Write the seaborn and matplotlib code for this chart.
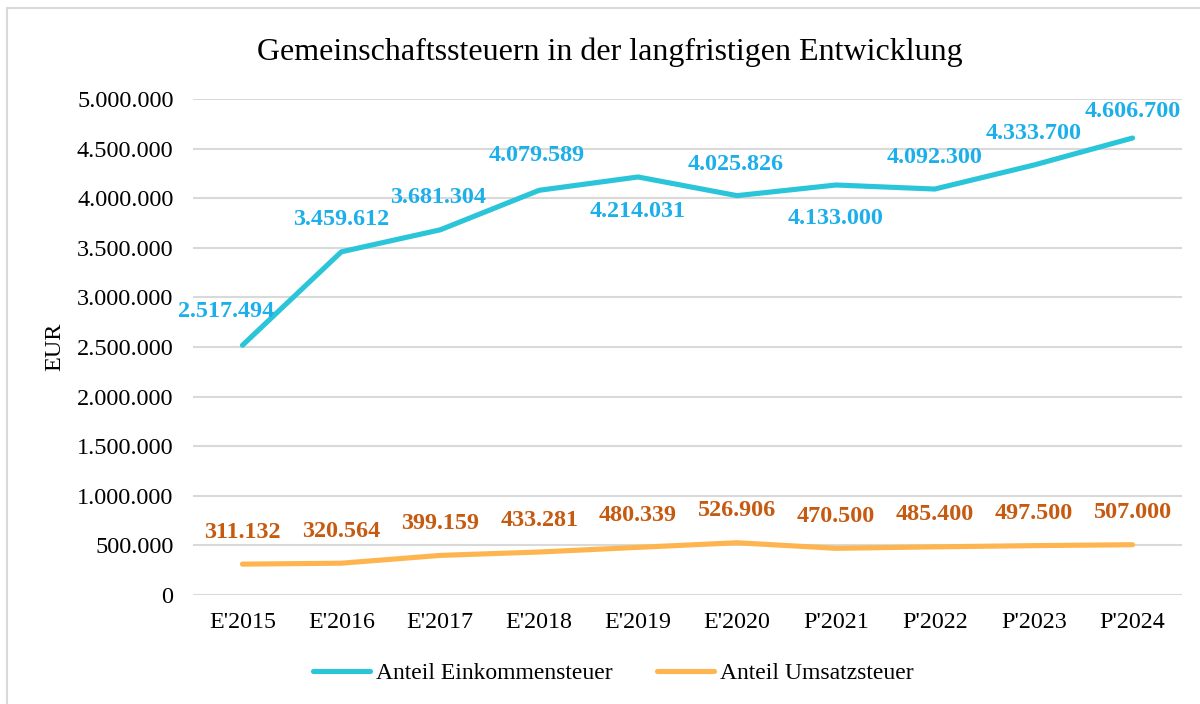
import matplotlib
matplotlib.use("Agg")
import matplotlib.pyplot as plt
import matplotlib.patches as mpatches
import seaborn as sns
import pandas as pd

categories = ["E'2015", "E'2016", "E'2017", "E'2018", "E'2019",
              "E'2020", "P'2021", "P'2022", "P'2023", "P'2024"]
eink = [2517494, 3459612, 3681304, 4079589, 4214031,
        4025826, 4133000, 4092300, 4333700, 4606700]
umsatz = [311132, 320564, 399159, 433281, 480339,
          526906, 470500, 485400, 497500, 507000]
series_names = ["Anteil Einkommensteuer", "Anteil Umsatzsteuer"]

def fmt(v):
    return f"{v:,.0f}".replace(",", ".")

df = pd.DataFrame({
    "Jahr": categories * 2,
    "Wert": eink + umsatz,
    "Serie": [series_names[0]] * len(categories) + [series_names[1]] * len(categories),
})

sns.set_theme(style="white")
plt.rcParams["font.family"] = ["Liberation Serif", "DejaVu Serif"]
plt.rcParams["text.color"] = "black"
plt.rcParams["axes.labelcolor"] = "black"
plt.rcParams["xtick.color"] = "black"
plt.rcParams["ytick.color"] = "black"

line_colors = {series_names[0]: "#2BC5DA", series_names[1]: "#FFB54F"}
label_colors = {series_names[0]: "#1CAFE9", series_names[1]: "#C55A11"}

fig = plt.figure(figsize=(12, 7.04), dpi=100)
ax = fig.add_axes([193 / 1200, 1 - 595 / 704, (1182 - 193) / 1200, (595 - 99) / 704])

sns.lineplot(data=df, x="Jahr", y="Wert", hue="Serie", palette=line_colors,
             linewidth=3.7, ax=ax, legend=False, sort=False)
for ln in ax.lines:
    ln.set_solid_capstyle("round")
    ln.set_solid_joinstyle("round")

ax.set_xlim(-0.5, len(categories) - 0.5)
ax.set_ylim(0, 5000000)
ax.set_yticks(range(0, 5000001, 500000))
ax.set_yticklabels([fmt(v) for v in range(0, 5000001, 500000)])
ax.grid(axis="y", color="#D9D9D9", linewidth=1.5)
ax.grid(axis="x", visible=False)
ax.set_axisbelow(True)
for s in ax.spines.values():
    s.set_visible(False)
ax.tick_params(axis="y", labelsize=17.5, pad=14, length=0, colors="black")
ax.tick_params(axis="x", labelsize=17.3, pad=12, length=0, colors="black")
ax.set_xlabel("")
ax.set_ylabel("EUR", fontsize=17.5, labelpad=12, color="black")
ax.yaxis.set_label_coords(-0.129, 0.5)

# data labels (offsets in pixels)
eink_off = [(-16, 34), (0, 32), (-2, 32), (-2, 35), (0, -35),
            (-1, 31), (0, -33), (0, 32), (0, 32), (0, 27)]
ums_off = [(0, 32)] * len(categories)
for vals, offs, name in [(eink, eink_off, series_names[0]), (umsatz, ums_off, series_names[1])]:
    for i, (v, (dx, dy)) in enumerate(zip(vals, offs)):
        ax.annotate(fmt(v), (i, v), xytext=(dx, dy), textcoords="offset pixels",
                    ha="center", va="center", fontsize=17.4, fontweight="bold",
                    color=label_colors[name])

fig.text(0.508, 1 - 52 / 704, "Gemeinschaftssteuern in der langfristigen Entwicklung",
         ha="center", va="center", fontsize=23, color="black")

handles = [plt.Line2D([], [], color=line_colors[n], linewidth=3.7, solid_capstyle="round")
           for n in series_names]
leg = fig.legend(handles, series_names, loc="center", bbox_to_anchor=(0.511, 1 - 673 / 704),
                 ncol=2, frameon=False, fontsize=17, handlelength=2.4, handletextpad=0.25,
                 columnspacing=1.9)
for t in leg.get_texts():
    t.set_color("black")

border = mpatches.Rectangle((7 / 1200, -0.1), 1.2, 1 - 8 / 704 + 0.1,
                            transform=fig.transFigure, fill=False,
                            edgecolor="#D9D9D9", linewidth=1.5)
fig.patches.append(border)

fig.savefig("out.png", dpi=100, facecolor="white")
